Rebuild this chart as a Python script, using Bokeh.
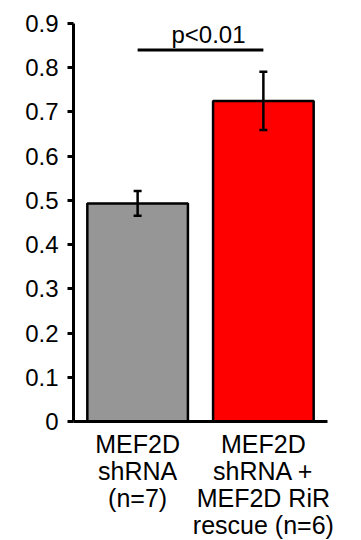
from bokeh.plotting import figure
from bokeh.models import ColumnDataSource, Range1d, FixedTicker, Whisker, TeeHead, Label
from bokeh.embed import file_html
from bokeh.resources import INLINE

categories = ["MEF2D\nshRNA\n(n=7)", "MEF2D\nshRNA +\nMEF2D RiR\nrescue (n=6)"]
positions = [1, 2]
means = [0.493, 0.725]
errors = [0.028, 0.066]
colors = ["#969696", "#FF0000"]
y_ticks = [0, 0.1, 0.2, 0.3, 0.4, 0.5, 0.6, 0.7, 0.8, 0.9]
y_tick_labels = ["0", "0.1", "0.2", "0.3", "0.4", "0.5", "0.6", "0.7", "0.8", "0.9"]
sig_text = "p<0.01"
sig_y = 0.84

FONT = "Liberation Sans"

src = ColumnDataSource(dict(
    x=positions, top=means, color=colors,
    upper=[m + e for m, e in zip(means, errors)],
    lower=[m - e for m, e in zip(means, errors)],
))

p = figure(frame_width=254, frame_height=398, output_backend="svg", toolbar_location=None,
           x_range=Range1d(0.49, 2.51), y_range=Range1d(0, 0.9),
           min_border_left=73, min_border_right=30, min_border_top=23, min_border_bottom=0)
p.outline_line_color = None
p.xgrid.visible = False
p.ygrid.visible = False

p.vbar(x="x", top="top", width=0.8, bottom=0, fill_color="color",
       line_color="black", line_width=2.5, source=src)

w = Whisker(base="x", upper="upper", lower="lower", source=src, level="overlay",
            line_color="black", line_width=2.5,
            upper_head=TeeHead(size=8, line_width=2.5, line_color="black"),
            lower_head=TeeHead(size=8, line_width=2.5, line_color="black"))
p.add_layout(w)

p.segment(x0=[positions[0]], y0=[sig_y], x1=[positions[1]], y1=[sig_y],
          line_color="black", line_width=3)
p.add_layout(Label(x=(positions[0] + positions[1]) / 2, y=sig_y, x_offset=8, y_offset=2,
                   text=sig_text, text_align="center", text_baseline="bottom",
                   text_font=FONT, text_font_size="24px", text_color="#000000"))

# y axis
ya = p.yaxis[0]
ya.ticker = FixedTicker(ticks=y_ticks)
ya.major_label_overrides = {t: l for t, l in zip(y_ticks, y_tick_labels)}
ya.minor_tick_line_color = None
ya.major_tick_in = 0
ya.major_tick_out = 6
ya.major_tick_line_width = 3
ya.axis_line_width = 3
ya.major_label_text_font = FONT
ya.major_label_text_font_size = "24px"
ya.major_label_text_color = "#000000"
ya.major_label_standoff = 9

# x axis
xa = p.xaxis[0]
xa.ticker = FixedTicker(ticks=positions)
xa.major_label_overrides = {pos: c for pos, c in zip(positions, categories)}
xa.minor_tick_line_color = None
xa.major_tick_line_color = None
xa.axis_line_width = 3
xa.major_label_text_font = FONT
xa.major_label_text_font_size = "25px"
xa.major_label_text_color = "#000000"
xa.major_label_text_line_height = 0.97
xa.major_label_standoff = 2

open("out.html", "w").write(file_html(p, INLINE))
